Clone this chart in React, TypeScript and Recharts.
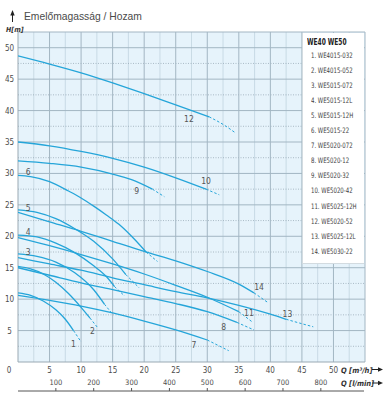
import React from 'react';
import { ComposedChart, Line, XAxis, YAxis, ReferenceLine, ReferenceArea, Scatter } from 'recharts';

const legendTitle = 'WE40 WE50';
const curveNames = [
  '1. WE4015-032', '2. WE4015-052', '3. WE5015-072', '4. WE5015-12L', '5. WE5015-12H',
  '6. WE5015-22', '7. WE5020-072', '8. WE5020-12', '9. WE5020-32', '10. WE5020-42',
  '11. WE5025-12H', '12. WE5020-52', '13. WE5025-12L', '14. WE5030-22',
];
const curveLabels = ['1', '2', '3', '4', '5', '6', '7', '8', '9', '10', '11', '12', '13', '14'];
const labelQ = [8.8, 11.8, 1.6, 1.6, 1.6, 1.6, 27.9, 32.6, 18.8, 29.8, 36.6, 27.1, 42.7, 38.2];
const labelH = [2.9, 4.9, 17.5, 20.7, 24.5, 30.3, 2.7, 5.6, 27.2, 28.8, 7.8, 38.7, 7.6, 11.9];

const c1 = [[0, 11.0], [2, 10.6], [4, 9.7], [6, 8.3], [7.5, 6.8], [8.8, 5.0]];
const c1d = [[8.8, 5.0], [10, 3.2]];
const c2 = [[0, 15.2], [2, 14.8], [4, 14.0], [6, 12.7], [8, 10.9], [10, 8.7], [11.4, 7.0]];
const c2d = [[11.4, 7.0], [12.6, 5.5]];
const c3 = [[0, 17.2], [3, 16.8], [6, 15.9], [9, 14.2], [12, 11.5], [13.7, 9.2]];
const c3d = [[13.7, 9.2], [15, 7.6]];
const c4 = [[0, 20.2], [3, 19.9], [6, 18.9], [9, 17.4], [12, 15.3], [14, 13.6], [15.3, 12.0]];
const c4d = [[15.3, 12.0], [16.9, 10.5]];
const c5 = [[0, 24.2], [3, 23.8], [6, 22.8], [9, 21.2], [12, 19.2], [15, 16.4], [17.1, 13.9]];
const c5d = [[17.1, 13.9], [19.2, 11.8]];
const c6 = [[0, 29.7], [2, 29.5], [5, 28.7], [8, 27.2], [10, 26.1], [12, 24.8], [14, 23.4], [16, 21.9], [18, 20.0], [20.3, 17.5]];
const c6d = [[20.3, 17.5], [22.1, 16.0]];
const c7 = [[0, 10.6], [5, 9.8], [10, 8.9], [15, 7.8], [20, 6.5], [25, 5.1], [30, 3.5]];
const c7d = [[30, 3.5], [33.4, 1.8]];
const c8 = [[0, 15.0], [5, 13.8], [10, 12.6], [15, 11.5], [20, 10.4], [25, 9.3], [30, 8.0], [34.7, 6.3]];
const c8d = [[34.7, 6.3], [37.4, 5.1]];
const c9 = [[0, 32.0], [5, 31.6], [10, 31.0], [15, 29.9], [18, 29.0], [21.3, 27.5]];
const c9d = [[21.3, 27.5], [23.2, 26.3]];
const c10 = [[0, 35.0], [5, 34.4], [10, 33.5], [15, 32.4], [20, 31.0], [25, 29.3], [29.8, 27.5]];
const c10d = [[29.8, 27.5], [31.9, 26.6]];
const c11 = [[0, 19.8], [5, 18.5], [10, 17.1], [15, 15.6], [20, 14.0], [25, 12.2], [30, 10.3], [35, 8.0]];
const c11d = [[35, 8.0], [37.1, 6.4]];
const c12 = [[0, 48.7], [5, 47.4], [10, 46.0], [15, 44.4], [20, 42.7], [25, 40.9], [30.3, 39.0]];
const c12d = [[30.3, 39.0], [32.5, 37.8], [34.4, 36.5]];
const c13 = [[0, 16.6], [5, 15.6], [10, 14.6], [15, 13.4], [20, 12.3], [25, 11.2], [30, 10.2], [35, 9.0], [40, 7.6], [42.5, 6.8]];
const c13d = [[42.5, 6.8], [44.6, 6.2], [46.8, 5.6]];
const c14 = [[0, 23.8], [5, 22.3], [10, 20.8], [15, 19.2], [20, 17.6], [25, 16.1], [30, 14.4], [35, 12.4], [37.4, 11.0]];
const c14d = [[37.4, 11.0], [39.7, 9.4]];

const solidCurves = [c1, c2, c3, c4, c5, c6, c7, c8, c9, c10, c11, c12, c13, c14];
const dashCurves = [c1d, c2d, c3d, c4d, c5d, c6d, c7d, c8d, c9d, c10d, c11d, c12d, c13d, c14d];

const qTicks = [0, 5, 10, 15, 20, 25, 30, 35, 40, 45, 50];
const lTicks = [100, 200, 300, 400, 500, 600, 700, 800];
const hTicks = [5, 10, 15, 20, 25, 30, 35, 40, 45, 50];
const qMajor = [5, 10, 15, 20, 25, 30, 35, 40, 45, 50, 55];
const qMinor = [2.5, 7.5, 12.5, 17.5, 22.5, 27.5, 32.5, 37.5, 42.5, 47.5, 52.5];
const hMajor = [5, 10, 15, 20, 25, 30, 35, 40, 45, 50, 52.5];
const hMinor = [2.5, 7.5, 12.5, 17.5, 22.5, 27.5, 32.5, 37.5, 42.5, 47.5];

const Q_MAX = 55;
const H_MAX = 52.5;
const L_MAX = (Q_MAX * 1000) / 60;

const toPts = (arr: number[][]) => arr.map(([q, h]) => ({ q, h }));
const labelPts = curveLabels.map((t, i) => ({ q: labelQ[i], h: labelH[i], t }));
// l/min axis anchor: the same Q range expressed in l/min (hidden helper series)
const lRange = [{ l: 0, h: 0 }, { l: L_MAX, h: 0 }];

const CURVE = '#25a5d9';
const FONT = '"Liberation Sans Narrow", "DejaVu Sans Condensed", "Liberation Sans", Arial, sans-serif';
const TXT = '#4d4d4d';

const QTick = (props: any) => {
  const { x, payload } = props;
  const px = payload.value === 0 ? x - 9 : x;
  return (
    <text x={px} y={373} textAnchor="middle" fontSize={8} fill={TXT} fontFamily={FONT}>
      {payload.value}
    </text>
  );
};

const LTick = (props: any) => {
  const { x, payload } = props;
  return (
    <g>
      <line x1={x} x2={x} y1={388} y2={391} stroke="#555" strokeWidth={1} />
      <text x={x} y={385} textAnchor="middle" fontSize={7.5} fill={TXT} fontFamily={FONT}>
        {payload.value}
      </text>
    </g>
  );
};

const HTick = (props: any) => {
  const { y, payload } = props;
  return (
    <text x={9.5} y={y + 3} textAnchor="middle" fontSize={8} fill={TXT} fontFamily={FONT}>
      {payload.value}
    </text>
  );
};

const LabelShape = (props: any) => {
  const { cx, cy, payload } = props;
  return (
    <text x={cx} y={cy + 3} textAnchor="middle" fontSize={8.5} fill="#555" fontFamily={FONT}>
      {payload.t}
    </text>
  );
};

export default function App() {
  return (
    <div style={{ position: 'absolute', left: 0, top: 0, width: 388, height: 400, background: '#fff', overflow: 'hidden' }}>
      <ComposedChart width={388} height={400} margin={{ top: 32, right: 23, bottom: 9, left: 0 }}>
        <XAxis
          xAxisId="q"
          dataKey="q"
          type="number"
          domain={[0, Q_MAX]}
          ticks={qTicks}
          interval={0}
          allowDataOverflow
          height={9}
          axisLine={false}
          tickLine={false}
          tick={<QTick />}
        />
        <XAxis
          xAxisId="l"
          dataKey="l"
          type="number"
          domain={[0, L_MAX]}
          ticks={lTicks}
          interval={0}
          allowDataOverflow
          height={20}
          axisLine={false}
          tickLine={false}
          tick={<LTick />}
        />
        <YAxis
          dataKey="h"
          type="number"
          domain={[0, H_MAX]}
          ticks={hTicks}
          interval={0}
          allowDataOverflow
          width={18}
          axisLine={false}
          tickLine={false}
          tick={<HTick />}
        />
        <ReferenceArea xAxisId="q" x1={0} x2={Q_MAX} y1={0} y2={H_MAX} fill="#e6f3fb" fillOpacity={1} stroke="none" />
        {qMinor.map((v) => (
          <ReferenceLine key={'qm' + v} xAxisId="q" x={v} stroke="#c2d4df" strokeWidth={0.8} />
        ))}
        {hMinor.map((v) => (
          <ReferenceLine key={'hm' + v} xAxisId="q" y={v} stroke="#8fa1ad" strokeWidth={0.7} strokeDasharray="1 1.5" />
        ))}
        {qMajor.map((v) => (
          <ReferenceLine key={'qM' + v} xAxisId="q" x={v} stroke="#a3b6c3" strokeWidth={1} />
        ))}
        {hMajor.map((v) => (
          <ReferenceLine key={'hM' + v} xAxisId="q" y={v} stroke="#a3b6c3" strokeWidth={1} />
        ))}
        <ReferenceLine xAxisId="q" x={0} stroke="#9aa9b3" strokeWidth={1} />
        <ReferenceLine xAxisId="q" y={0} stroke="#9aa9b3" strokeWidth={1} />
        <Line
          xAxisId="l"
          data={lRange}
          dataKey="h"
          stroke="none"
          dot={false}
          activeDot={false}
          legendType="none"
          isAnimationActive={false}
        />
        {solidCurves.map((c, i) => (
          <Line
            key={'s' + i}
            xAxisId="q"
            data={toPts(c)}
            dataKey="h"
            type="monotone"
            stroke={CURVE}
            strokeWidth={1.3}
            dot={false}
            activeDot={false}
            isAnimationActive={false}
          />
        ))}
        {dashCurves.map((c, i) => (
          <Line
            key={'d' + i}
            xAxisId="q"
            data={toPts(c)}
            dataKey="h"
            type="monotone"
            stroke={CURVE}
            strokeWidth={1}
            strokeDasharray="2.5 2"
            dot={false}
            activeDot={false}
            isAnimationActive={false}
          />
        ))}
        <Scatter xAxisId="q" data={labelPts} dataKey="h" shape={<LabelShape />} isAnimationActive={false} />
      </ComposedChart>

      <svg width={388} height={400} style={{ position: 'absolute', left: 0, top: 0, pointerEvents: 'none' }}>
        <line x1={12.5} y1={22} x2={12.5} y2={14} stroke="#222" strokeWidth={1} />
        <polygon points="10.3,15.5 14.7,15.5 12.5,10" fill="#222" />
        <text x={24} y={19.5} fontSize={10.3} fill="#4a4a4a" fontFamily='"Liberation Sans", Arial, sans-serif'>
          Emelőmagasság / Hozam
        </text>
        <text x={6} y={32} fontSize={7} fontStyle="italic" fontWeight="bold" fill="#333" fontFamily={FONT}>
          H[m]
        </text>
        <line x1={18} y1={391} x2={364} y2={391} stroke="#555" strokeWidth={1} />
        <text x={341} y={372.5} fontSize={7.5} fontStyle="italic" fontWeight="bold" fill="#333" fontFamily={FONT}>
          Q [m³/h]
        </text>
        <text x={341} y={386} fontSize={7.5} fontStyle="italic" fontWeight="bold" fill="#333" fontFamily={FONT}>
          Q [l/min]
        </text>
        <line x1={372} y1={369.5} x2={379} y2={369.5} stroke="#222" strokeWidth={1} />
        <polygon points="378,367.3 378,371.7 383,369.5" fill="#222" />
        <line x1={372} y1={383} x2={379} y2={383} stroke="#222" strokeWidth={1} />
        <polygon points="378,380.8 378,385.2 383,383" fill="#222" />
      </svg>

      <div
        style={{
          position: 'absolute',
          left: 302,
          top: 33,
          width: 62,
          height: 231,
          background: '#fff',
          borderLeft: '1px solid #d3dbe0',
          borderBottom: '1px solid #d3dbe0',
          boxSizing: 'border-box',
          fontFamily: FONT,
          color: '#3d3d3d',
        }}
      >
        <div
          style={{
            position: 'absolute', left: 4, top: 5, fontSize: 8, fontWeight: 'bold', lineHeight: '10px',
            whiteSpace: 'nowrap', color: '#222', transform: 'scaleX(0.82)', transformOrigin: 'left center',
          }}
        >
          {legendTitle}
        </div>
        {curveNames.map((n, i) => (
          <div
            key={n}
            style={{
              position: 'absolute', left: 8, top: 23 + i * 15.05 - 5, fontSize: 7.5, lineHeight: '10px',
              whiteSpace: 'nowrap', transform: 'scaleX(0.8)', transformOrigin: 'left center',
            }}
          >
            {n}
          </div>
        ))}
      </div>
    </div>
  );
}
